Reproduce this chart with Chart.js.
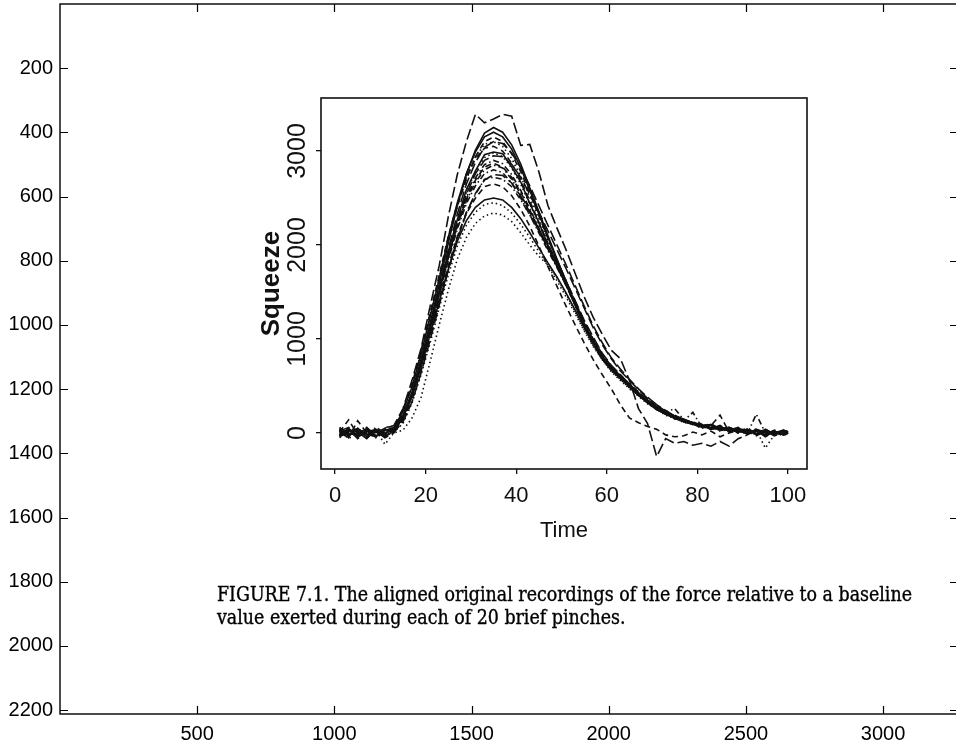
<!DOCTYPE html>
<html>
<head>
<meta charset="utf-8">
<script src="https://cdn.jsdelivr.net/npm/chart.js@4.4.0/dist/chart.umd.min.js"></script>
<style>
html, body { margin: 0; padding: 0; background: #fff; overflow: hidden; width: 956px; height: 748px; }
#outer { position: absolute; left: 0; top: 0; }
#inner { position: absolute; left: 230px; top: 80px; }
.caption { position: absolute; left: 217px; font-family: 'DejaVu Serif Condensed', 'DejaVu Serif', serif; font-size: 19.5px; line-height: 23px; color: #000; -webkit-text-stroke: 0.35px #000; white-space: nowrap; transform-origin: 0 0; }
</style>
</head>
<body>
<canvas id="outer" width="966" height="748"></canvas>
<canvas id="inner" width="600" height="480"></canvas>
<div class="caption" id="cap1" style="top:583px">FIGURE 7.1. The aligned original recordings of the force relative to a baseline</div>
<div class="caption" id="cap2" style="top:606px">value exerted during each of 20 brief pinches.</div>
<script>
// page (image pixel) axes
const pageXTicks = [500, 1000, 1500, 2000, 2500, 3000];
const pageYTicks = [200, 400, 600, 800, 1000, 1200, 1400, 1600, 1800, 2000, 2200];

// inner figure axes
const timeTicks = [0, 20, 40, 60, 80, 100];
const squeezeTicks = [0, 1000, 2000, 3000];

const timePoints = [1, 3, 5, 7, 9, 11, 13, 15, 17, 19, 21, 23, 25, 27, 29, 31, 33, 35, 37, 39, 41, 43, 45, 47, 49,
  51, 53, 55, 57, 59, 61, 63, 65, 67, 69, 71, 73, 75, 77, 79, 81, 83, 85, 87, 89, 91, 93, 95, 97, 99, 100];

// squeeze recordings, one per pinch
const pinch01 = [30, -20, 50, -40, 20, -10,
  50, 180, 430, 785, 1170, 1580, 2020, 2420, 2755, 3010, 3190,
  3250, 3200, 3065, 2860, 2610, 2355, 2100, 1850, 1615, 1380,
  1170, 980, 820, 700, 610, 520, 430, 350, 280, 220, 180,
  140, 110, 90, 40, 70, 20, 50, -10, 40, 10, -20, 30, 10];
const pinch02 = [-30, 40, -60, 20, -40, 30,
  20, 170, 400, 725, 1080, 1430, 1780, 2090, 2335, 2500, 2620,
  2650, 2620, 2525, 2380, 2200, 1990, 1770, 1560, 1350, 1150,
  960, 780, 620, 470, 300, 160, 110, 70, 40, -20, -40,
  -30, 10, -20, 20, -40, 0, 30, -10, 20, -30, 10, -20, 0];
const pinch03 = [10, -30, 20, -10, 30, -120,
  0, 30, 160, 380, 760, 1150, 1520, 1850, 2080, 2230, 2310,
  2340, 2320, 2250, 2130, 2000, 1880, 1790, 1650, 1480, 1290,
  1100, 930, 780, 650, 560, 470, 390, 310, 250, 190, 150,
  120, 90, 70, 40, 60, 20, 30, 0, 20, -10, 10, -20, 0];
const pinch04 = [-50, 20, -20, 60, -30, 10,
  40, 190, 415, 750, 1115, 1495, 1880, 2225, 2510, 2715, 2855,
  2900, 2865, 2750, 2580, 2385, 2180, 1975, 1780, 1580, 1365,
  1160, 970, 790, 690, 580, 510, 400, 340, 250, 220, 260,
  140, 90, 100, 50, 70, 30, 60, 10, 40, -20, 30, 0, 20];
const pinch05 = [20, 60, -40, 30, -10, 50,
  80, 260, 560, 900, 1350, 1780, 2300, 2750, 3100, 3390, 3300,
  3340, 3390, 3370, 3060, 3070, 2780, 2420, 2180, 1950, 1700,
  1450, 1230, 1050, 880, 790, 560, 260, 100, -250, -60, -110,
  -90, -130, -110, -140, -90, -140, -60, -20, 30, -40, 10, -30, 0];
const pinch06 = [-20, 30, 10, -60, 40, -30,
  20, 170, 430, 750, 1140, 1510, 1930, 2270, 2590, 2790, 2960,
  2990, 2970, 2830, 2670, 2440, 2240, 2000, 1810, 1580, 1380,
  1140, 970, 790, 690, 580, 510, 400, 340, 250, 220, 150,
  140, 110, 60, 90, 30, 50, 10, 40, -10, 30, -20, 20, 0];
const pinch07 = [40, -50, 130, 0, -30, 60,
  70, 240, 500, 850, 1250, 1640, 2060, 2410, 2700, 2940, 3100,
  3150, 3100, 2970, 2780, 2550, 2310, 2070, 1840, 1620, 1400,
  1170, 990, 830, 710, 620, 520, 440, 350, 290, 220, 190,
  140, 120, 70, 100, 40, 60, 20, 50, 0, 40, -10, 30, 10];
const pinch08 = [-10, 20, -40, 10, 30, -20,
  10, 100, 320, 620, 960, 1330, 1680, 1990, 2210, 2350, 2430,
  2450, 2420, 2340, 2220, 2080, 1930, 1780, 1620, 1450, 1270,
  1090, 920, 780, 660, 570, 480, 400, 320, 250, 200, 160,
  110, 100, 60, 70, 20, 40, 0, 30, -20, 20, -10, 10, 0];
const pinch09 = [50, -10, 20, -30, 60, 0,
  30, 190, 410, 740, 1100, 1480, 1860, 2200, 2470, 2670, 2800,
  2850, 2820, 2700, 2540, 2350, 2150, 1960, 1770, 1570, 1360,
  1150, 960, 810, 670, 600, 490, 420, 320, 270, 200, 170,
  120, 110, 70, 50, 60, 20, 40, -10, 200, 0, 20, -20, 10];
const pinch10 = [-40, 10, 50, -20, 20, -50,
  0, 150, 390, 720, 1090, 1470, 1870, 2230, 2540, 2760, 2900,
  2950, 2940, 2860, 2720, 2540, 2350, 2150, 1950, 1750, 1540,
  1330, 1120, 940, 790, 660, 560, 460, 370, 300, 240, 180,
  150, 100, 90, 50, 70, 20, 50, 0, 30, -20, 20, -10, 10];
const pinch11 = [20, -30, 40, -10, -40, 30,
  20, 160, 390, 700, 1050, 1400, 1740, 2040, 2260, 2400, 2480,
  2500, 2480, 2400, 2280, 2130, 1970, 1810, 1660, 1490, 1310,
  1120, 950, 790, 670, 580, 490, 410, 330, 260, 200, 170,
  120, 90, 80, 40, 60, 20, 30, -10, 20, -30, 10, -10, 0];
const pinch12 = [10, 140, -20, 50, -40, 20,
  60, 250, 520, 880, 1280, 1680, 2090, 2440, 2720, 2920, 3030,
  3050, 3000, 2870, 2690, 2470, 2240, 2020, 1800, 1590, 1370,
  1150, 960, 810, 680, 590, 500, 420, 330, 270, 210, 170,
  130, 90, 90, 50, 40, 60, 10, 30, -20, 40, 0, 20, 0];
const pinch13 = [-30, -10, 30, -40, 10, 40,
  50, 230, 500, 860, 1250, 1650, 2060, 2420, 2720, 2940, 3070,
  3100, 3050, 2920, 2730, 2510, 2280, 2050, 1830, 1610, 1390,
  1170, 990, 820, 700, 590, 500, 400, 340, 250, 220, 160,
  130, 110, 70, 70, 30, 40, 20, -10, 30, -160, -20, 10, 0];
const pinch14 = [30, -60, 10, 20, -20, 10,
  30, 180, 410, 740, 1100, 1470, 1840, 2170, 2440, 2630, 2760,
  2800, 2770, 2660, 2500, 2320, 2130, 1940, 1760, 1570, 1360,
  1150, 960, 800, 680, 590, 500, 410, 330, 260, 210, 165,
  130, 220, 60, 80, 30, 50, 10, 40, 0, 20, -30, 10, 0];
const pinch15 = [0, 30, -50, 40, 0, -30,
  10, 120, 330, 640, 990, 1360, 1730, 2060, 2340, 2550, 2690,
  2750, 2740, 2660, 2520, 2350, 2170, 1990, 1810, 1620, 1410,
  1200, 1020, 850, 720, 620, 520, 420, 350, 270, 230, 170,
  140, 100, 80, 40, 60, 20, 40, -10, 30, 0, 20, -20, 0];
const pinch16 = [-20, 50, -30, 10, 40, -10,
  60, 230, 490, 840, 1240, 1640, 2080, 2450, 2760, 2990, 3150,
  3200, 3150, 3020, 2820, 2580, 2330, 2080, 1840, 1610, 1380,
  1150, 950, 790, 670, 580, 490, 400, 320, 250, 200, 160,
  130, 100, 80, 90, 40, 60, 20, 40, -10, 20, 0, 30, 10];
const pinch17 = [60, -20, 0, -50, 20, 30,
  50, 200, 410, 745, 1110, 1490, 1870, 2210, 2490, 2690, 2830,
  2870, 2830, 2720, 2560, 2370, 2170, 1960, 1770, 1580, 1360,
  1140, 950, 800, 690, 600, 510, 420, 340, 270, 220, 170,
  130, 100, 50, 80, 190, 10, 50, 20, -30, 20, -10, 10, 0];
const pinch18 = [-10, -40, 30, 20, -50, 10,
  10, 170, 420, 760, 1130, 1515, 1910, 2270, 2565, 2780, 2930,
  2980, 2940, 2820, 2645, 2435, 2220, 2000, 1800, 1590, 1370,
  1160, 980, 810, 700, 600, 510, 420, 340, 270, 210, 170,
  130, 100, 50, 90, 20, 60, 0, 40, -20, 30, -10, 20, 0];
const pinch19 = [40, 0, -30, 50, -20, 20,
  20, 140, 350, 660, 1020, 1380, 1750, 2080, 2350, 2540, 2700,
  2720, 2700, 2620, 2480, 2320, 2150, 1970, 1790, 1600, 1400,
  1190, 1000, 840, 710, 600, 500, 410, 330, 260, 210, 160,
  120, 100, 70, 50, 80, 30, 50, 10, 40, -10, 20, -20, 0];
const pinch20 = [-30, 20, 40, -20, 10, -40,
  20, 170, 420, 760, 1140, 1540, 1950, 2330, 2650, 2880, 3040,
  3100, 3080, 2980, 2820, 2630, 2420, 2210, 2000, 1790, 1570,
  1350, 1140, 960, 800, 680, 570, 470, 380, 300, 230, 180,
  140, 110, 70, 90, 40, 50, 0, 30, -20, 30, -10, 20, 0];

const pinches = [pinch01, pinch02, pinch03, pinch04, pinch05, pinch06, pinch07, pinch08, pinch09, pinch10,
  pinch11, pinch12, pinch13, pinch14, pinch15, pinch16, pinch17, pinch18, pinch19, pinch20];

const SANS = "'Liberation Sans', Arial, sans-serif";
const lineDashes = [[], [6, 4], [1.5, 3], [1.5, 3, 6, 3], [11, 4]];

// box round the chart area, with optional inward ticks on all four sides
const frame = {
    id: 'frame',
    afterDraw(chart, args, opts) {
        const { ctx, chartArea: a, scales } = chart;
        ctx.save();
        ctx.strokeStyle = opts.color;
        ctx.lineWidth = opts.width;
        ctx.strokeRect(a.left, a.top, a.right - a.left, a.bottom - a.top);
        if (opts.tickIn) {
            ctx.lineWidth = 1.2;
            ctx.beginPath();
            scales.x.ticks.forEach(t => {
                const px = Math.round(scales.x.getPixelForValue(t.value)) + 0.5;
                ctx.moveTo(px, a.bottom); ctx.lineTo(px, a.bottom - opts.tickIn);
                ctx.moveTo(px, a.top); ctx.lineTo(px, a.top + opts.tickIn);
            });
            scales.y.ticks.forEach(t => {
                const py = Math.round(scales.y.getPixelForValue(t.value)) + 0.5;
                ctx.moveTo(a.left, py); ctx.lineTo(a.left + opts.tickIn, py);
                ctx.moveTo(a.right, py); ctx.lineTo(a.right - opts.tickIn, py);
            });
            ctx.stroke();
        }
        ctx.restore();
    }
};

const noPad = s => { s.paddingLeft = 0; s.paddingRight = 0; s.paddingTop = 0; s.paddingBottom = 0; };

new Chart(document.getElementById('outer'), {
    type: 'scatter',
    data: { datasets: [] },
    plugins: [frame],
    options: {
        responsive: false,
        animation: false,
        layout: { padding: { top: 4, right: 8, left: 0, bottom: 0 } },
        plugins: {
            legend: { display: false },
            tooltip: { enabled: false },
            frame: { color: '#000', width: 1.4, tickIn: 8 }
        },
        scales: {
            x: {
                type: 'linear',
                min: 0,
                max: 3273,
                grid: { display: false, drawTicks: false },
                border: { display: false },
                afterBuildTicks: s => { s.ticks = pageXTicks.map(v => ({ value: v })); },
                afterFit: s => { s.height = 34; noPad(s); },
                ticks: { font: { family: SANS, size: 20 }, color: '#000', padding: 8, maxRotation: 0, autoSkip: false, callback: v => String(v) }
            },
            y: {
                type: 'linear',
                reverse: true,
                min: 0,
                max: 2212,
                grid: { display: false, drawTicks: false },
                border: { display: false },
                afterBuildTicks: s => { s.ticks = pageYTicks.map(v => ({ value: v })); },
                afterFit: s => { s.width = 60; noPad(s); },
                ticks: { font: { family: SANS, size: 20 }, color: '#000', padding: 7, autoSkip: false, callback: v => String(v) }
            }
        }
    }
});

new Chart(document.getElementById('inner'), {
    type: 'line',
    data: {
        datasets: pinches.map((s, i) => ({
            label: 'Pinch ' + (i + 1),
            data: timePoints.map((t, j) => ({ x: t, y: s[j] })),
            borderColor: '#111',
            borderWidth: 1.6,
            borderDash: lineDashes[i % 5],
            pointRadius: 0,
            tension: 0,
            fill: false
        }))
    },
    plugins: [frame],
    options: {
        responsive: false,
        animation: false,
        layout: { padding: { top: 18, right: 23, left: 0, bottom: 0 } },
        plugins: {
            legend: { display: false },
            tooltip: { enabled: false },
            frame: { color: '#111', width: 1.6, tickIn: 0 }
        },
        scales: {
            x: {
                type: 'linear',
                min: -3.1,
                max: 104.2,
                grid: { display: true, drawOnChartArea: false, drawTicks: true, tickLength: 5, color: '#111', lineWidth: 1.3 },
                border: { display: false },
                afterBuildTicks: s => { s.ticks = timeTicks.map(v => ({ value: v })); },
                afterFit: s => { s.height = 91; noPad(s); },
                ticks: { font: { family: SANS, size: 22 }, color: '#111', padding: 9, maxRotation: 0, autoSkip: false, callback: v => String(v) },
                title: { display: true, text: 'Time', color: '#111', font: { family: SANS, size: 22 }, padding: { top: 0, bottom: 16 } }
            },
            y: {
                type: 'linear',
                min: -383,
                max: 3564,
                grid: { display: true, drawOnChartArea: false, drawTicks: true, tickLength: 5, color: '#111', lineWidth: 1.3 },
                border: { display: false },
                afterBuildTicks: s => { s.ticks = squeezeTicks.map(v => ({ value: v })); },
                afterFit: s => { s.width = 91; noPad(s); },
                ticks: { font: { family: SANS, size: 25 }, color: '#111', padding: -10, minRotation: 90, maxRotation: 90, crossAlign: 'center', autoSkip: false, callback: v => String(v) },
                title: { display: true, text: 'Squeeze', color: '#111', font: { family: SANS, size: 26, weight: 'bold' }, padding: { top: 26, bottom: 0 } }
            }
        }
    }
});

// stretch the caption lines to the printed measure
const cap1 = document.getElementById('cap1');
const cap2 = document.getElementById('cap2');
const k = 695 / cap1.getBoundingClientRect().width;
[cap1, cap2].forEach(el => { el.style.transform = 'scaleX(' + k + ')'; });
</script>
</body>
</html>
